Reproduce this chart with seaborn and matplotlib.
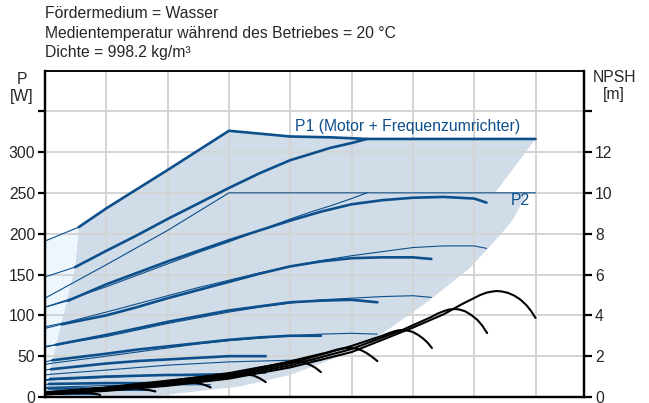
import numpy as np
import pandas as pd
import matplotlib
matplotlib.use("Agg")
import matplotlib.pyplot as plt
import seaborn as sns

# flow axis has no labels, units are grid steps
# --- power limits (P1 thick, P2 thin) ---
env_x = [0, 0.55, 1, 2, 3, 4, 4.65, 5.25, 8.0]
env_p1 = [191, 208, 231, 278, 326, 319, 318, 316, 316]
env2_x = [0, 1, 2, 3, 8.0]
env_p2 = [121, 162, 204, 250, 250]

# --- power curves per speed ---
q_100 = [0, 0.49, 1, 1.5, 2, 2.5, 3, 3.5, 4, 4.35, 4.65, 5.0, 5.25]
p1_100 = [147, 159, 179, 198, 218, 237, 256, 274, 290, 298, 305, 311, 316]
p2_100 = [110, 122, 135, 149, 163, 177, 190, 204, 218, 227, 234, 243, 250]

q_90 = [0, 0.38, 1, 1.5, 2, 2.5, 3, 3.5, 4, 4.5, 5, 5.5, 6, 6.5, 7, 7.2]
p1_90 = [110, 118, 138, 152, 166, 179, 192, 204, 216, 227, 236, 241, 244, 245, 243, 238]
p2_90 = [86, 92, 104, 114, 124, 134, 143, 152, 160, 167, 173, 178, 183, 185, 185, 182]

q_80 = [0, 0.27, 1, 1.5, 2, 2.5, 3, 3.5, 4, 4.5, 5, 5.5, 6, 6.3]
p1_80 = [84, 89, 100, 110, 121, 131, 141, 151, 160, 166, 170, 171, 171, 169]
p2_80 = [62, 65, 74, 82, 90, 97, 104, 110, 115, 119, 121, 123, 124, 122]

q_70 = [0, 0.18, 1, 1.5, 2, 2.5, 3, 3.5, 4, 4.5, 5, 5.42]
p1_70 = [61, 64, 76, 84, 92, 99, 106, 111, 116, 118, 119, 116]
p2_70 = [40, 42, 50, 55, 60, 65, 69, 72, 75, 77, 78, 77]

q_60 = [0, 0.12, 1, 1.5, 2, 2.5, 3, 3.5, 4, 4.5]
p1_60 = [43, 45, 53, 58, 62, 66, 70, 73, 75, 75]
p2_60 = [27, 28, 33, 36, 39, 41, 43, 44, 45, 45]

q_50 = [0, 0.1, 1, 1.5, 2, 2.5, 3, 3.6]
p1_50 = [33, 34, 41, 44, 46, 48, 50, 50]
p2_50 = [20, 21, 24, 26, 27, 28, 29, 29]

q_40 = [0, 0.08, 1, 2, 2.7]
p1_40 = [22, 22, 25, 27, 27]
p2_40 = [12, 12, 14, 15, 15]

q_30 = [0, 0.06, 1, 1.8]
p1_30 = [16, 16, 17, 17]
p2_30 = [7, 7, 8, 8]

q_20 = [0, 0.05, 0.9]
p1_20 = [11, 11, 11]
p2_20 = [4, 4, 4]

# --- NPSH curves [m] ---
n100_x = [0, 1, 2, 3, 4, 5, 6, 6.5, 6.8, 7.0, 7.1, 7.2, 7.3, 7.37, 7.45, 7.55, 7.65, 7.75, 7.85, 7.93, 8.0]
n100 = [0.12, 0.3, 0.55, 0.9, 1.45, 2.2, 3.4, 4.05, 4.55, 4.85, 5.0, 5.11, 5.17, 5.19, 5.17, 5.1, 4.97, 4.78, 4.5, 4.2, 3.87]
n90_x = [0, 1, 2, 3, 4, 5, 5.84, 6.3, 6.4, 6.5, 6.58, 6.66, 6.75, 6.85, 6.95, 7.05, 7.13, 7.21]
n90 = [0.14, 0.34, 0.6, 0.97, 1.55, 2.35, 3.3, 3.92, 4.08, 4.2, 4.28, 4.31, 4.29, 4.2, 4.02, 3.78, 3.5, 3.13]
n80_x = [0, 1, 2, 3, 4, 5, 5.5, 5.6, 5.7, 5.77, 5.84, 5.92, 6.0, 6.08, 6.16, 6.24, 6.31]
n80 = [0.16, 0.38, 0.66, 1.03, 1.65, 2.5, 3.0, 3.12, 3.22, 3.27, 3.28, 3.25, 3.18, 3.05, 2.88, 2.66, 2.4]
n70_x = [0, 1, 2, 3, 4, 4.6, 4.7, 4.8, 4.9, 4.98, 5.06, 5.15, 5.23, 5.32, 5.42]
n70 = [0.18, 0.42, 0.72, 1.1, 1.75, 2.18, 2.27, 2.35, 2.39, 2.4, 2.38, 2.3, 2.18, 2.0, 1.76]
n60_x = [0, 1, 2, 3, 3.5, 3.8, 3.9, 4.0, 4.1, 4.18, 4.26, 4.34, 4.42, 4.5]
n60 = [0.2, 0.45, 0.77, 1.17, 1.45, 1.6, 1.65, 1.7, 1.72, 1.71, 1.65, 1.55, 1.41, 1.22]
n50_x = [0, 1, 2, 2.5, 2.9, 3.05, 3.2, 3.3, 3.4, 3.5, 3.6]
n50 = [0.22, 0.47, 0.8, 0.96, 1.05, 1.09, 1.11, 1.1, 1.05, 0.92, 0.73]
n40_x = [0, 1, 1.8, 2.2, 2.35, 2.45, 2.55, 2.65, 2.7]
n40 = [0.22, 0.45, 0.64, 0.7, 0.71, 0.7, 0.64, 0.54, 0.47]
n30_x = [0, 0.8, 1.2, 1.4, 1.55, 1.7, 1.8]
n30 = [0.2, 0.34, 0.4, 0.42, 0.4, 0.34, 0.27]
n20_x = [0, 0.4, 0.6, 0.75, 0.85, 0.9]
n20 = [0.14, 0.18, 0.2, 0.19, 0.14, 0.1]

# operating area (P1), step at the P2 = 250 W limit
shade_x = [0.55, 1, 2, 3, 4, 4.65, 5.25, 8.0, 7.34, 7.86, 7.63, 7.42, 6.93, 6.28, 5.51,
           4.81, 4.0, 3.18, 2.25, 1.71, 0.03, 0.08, 0.24, 0.41, 0.49]
shade_w = [208, 231, 278, 326, 319, 318, 316, 316, 250, 250, 217, 198, 158, 119, 78,
           50, 27, 13, 5, 0, 0, 33, 82, 135, 159]
light_x = [0, 0.55, 0.49, 0.41, 0.24, 0.08, 0.03, 0]
light_w = [191, 208, 159, 135, 82, 33, 0, 0]

left_ticks = [0, 50, 100, 150, 200, 250, 300, 350]
left_labels = ["0", "50", "100", "150", "200", "250", "300", ""]
right_ticks = [0, 2, 4, 6, 8, 10, 12, 14]
right_labels = ["0", "2", "4", "6", "8", "10", "12", ""]

header = ["Fördermedium = Wasser",
          "Medientemperatur während des Betriebes = 20 °C",
          "Dichte = 998.2 kg/m³"]

sns.set_style("white")
plt.rcParams["font.family"] = ["Liberation Sans", "DejaVu Sans"]
fs = 11.3

blue = "#0d4f8b"
W, H = 649, 403
fig = plt.figure(figsize=(W / 100, H / 100), dpi=100)
ax = fig.add_axes([45 / W, 6 / H, 539 / W, 326 / H])
ax.set_xlim(0, 8.79)
ax.set_ylim(0, 399.2)

ax.fill(shade_x, shade_w, color="#d0dce8", lw=0, zorder=0.2)
ax.fill(light_x, light_w, color="#edf5fd", lw=0, zorder=0.2)

ax.set_axisbelow(True)
ax.set_xticks(range(1, 9))
ax.set_yticks(left_ticks)
ax.set_yticklabels(left_labels)
ax.grid(True, color="#d4d4d4", lw=1.4)
ax.tick_params(axis="x", length=0, labelbottom=False)
ax.tick_params(axis="y", direction="out", length=5, width=1.6, color="black", pad=2, labelsize=fs)


def curve(axis, x, y, lw, color):
    sns.lineplot(x=x, y=y, ax=axis, color=color, linewidth=lw, sort=False,
                 estimator=None, legend=False)


# P1 curves: thin inside the light zone, thick afterwards
for q, p1, p2 in [(q_100, p1_100, p2_100), (q_90, p1_90, p2_90), (q_80, p1_80, p2_80),
                  (q_70, p1_70, p2_70), (q_60, p1_60, p2_60), (q_50, p1_50, p2_50),
                  (q_40, p1_40, p2_40), (q_30, p1_30, p2_30), (q_20, p1_20, p2_20)]:
    curve(ax, q[:2], p1[:2], 0.8, blue)
    curve(ax, q[1:], p1[1:], 1.9, blue)
    curve(ax, q, p2, 0.8, blue)

curve(ax, env_x[:2], env_p1[:2], 0.8, blue)
curve(ax, env_x[1:], env_p1[1:], 1.9, blue)
curve(ax, env2_x, env_p2, 0.8, blue)

ax.text(4.08, 331, "P1 (Motor + Frequenzumrichter)", color=blue, fontsize=fs,
        va="center", ha="left")
ax.text(7.59, 241, "P2", color=blue, fontsize=fs, va="center", ha="left")

ax2 = ax.twinx()
ax2.set_ylim(0, 399.2 / 25)
ax2.set_yticks(right_ticks)
ax2.set_yticklabels(right_labels)
ax2.tick_params(axis="y", direction="out", length=6, width=1.6, color="black", pad=2, labelsize=fs)
for nx, ny in [(n100_x, n100), (n90_x, n90), (n80_x, n80), (n70_x, n70), (n60_x, n60),
               (n50_x, n50), (n40_x, n40), (n30_x, n30), (n20_x, n20)]:
    curve(ax2, nx, ny, 1.5, "black")
ax2.set_ylabel("")
ax.set_ylabel("")

for a in (ax, ax2):
    a.spines["left"].set_linewidth(1.6)
    a.spines["right"].set_linewidth(1.6)
    a.spines["bottom"].set_linewidth(1.6)
    a.spines["top"].set_linewidth(1.1)
    for s in a.spines.values():
        s.set_color("black")

for i, line in enumerate(header):
    fig.text(45 / W, 1 - (14 + 19.5 * i) / H, line, fontsize=fs, va="center", ha="left")
fig.text(22 / W, 1 - 88 / H, "P\n[W]", fontsize=fs, ha="center", va="center", linespacing=1.15)
fig.text(614 / W, 1 - 86 / H, "NPSH\n[m]", fontsize=fs, ha="center", va="center", linespacing=1.1)

fig.savefig("out.png", dpi=100)
